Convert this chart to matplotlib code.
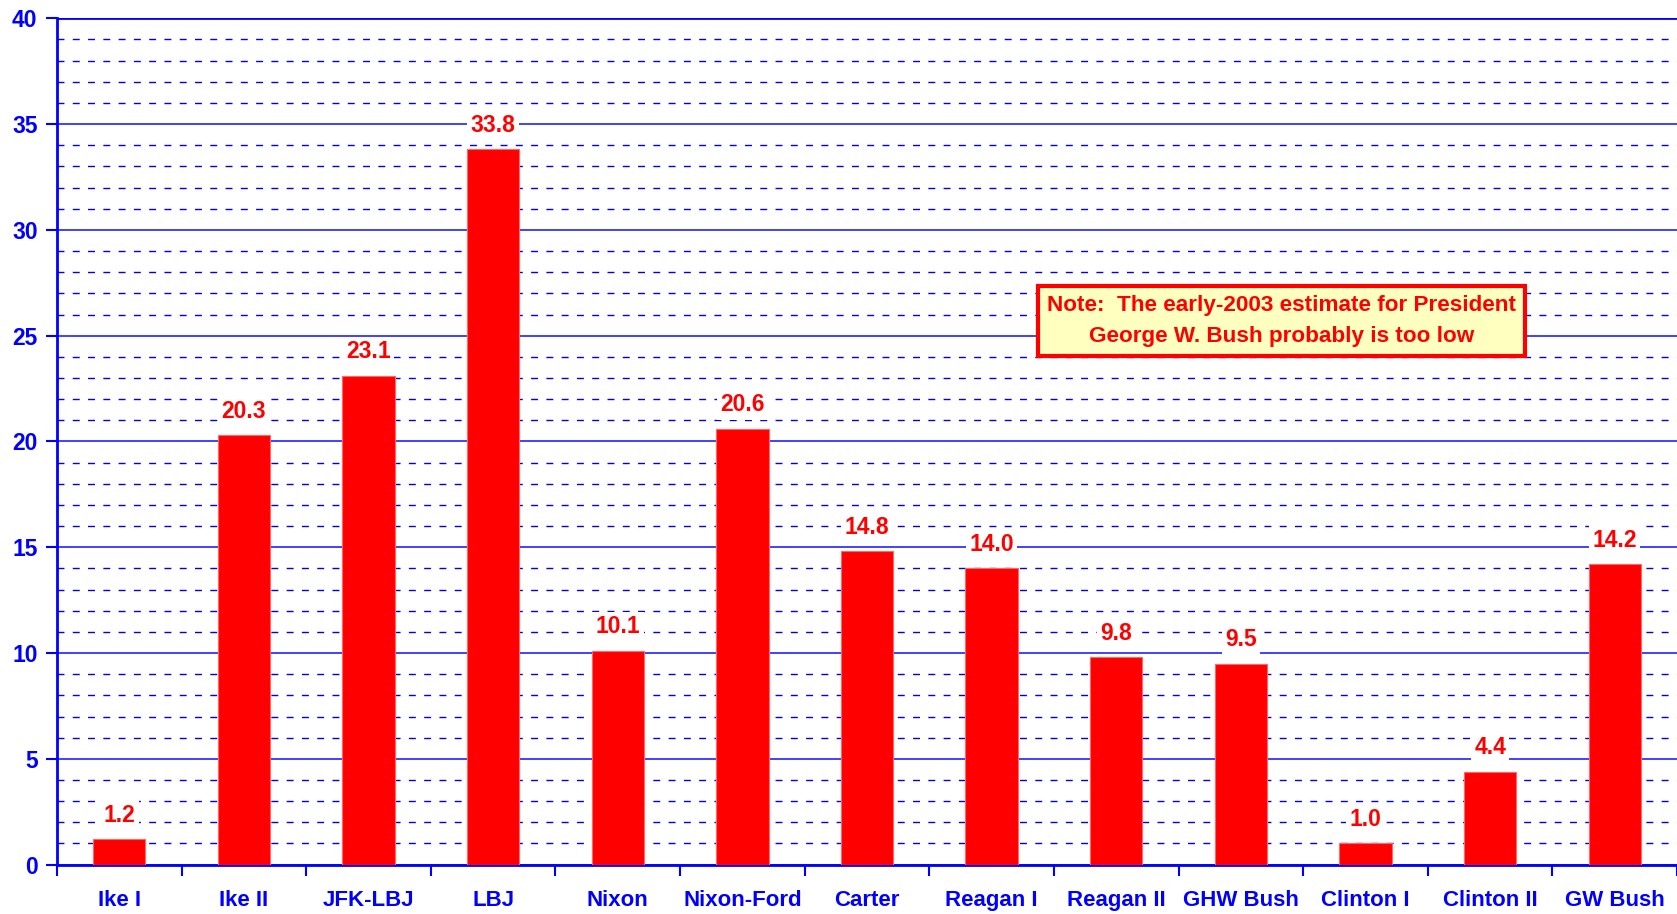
import matplotlib.pyplot as plt
from matplotlib.ticker import MultipleLocator

plt.rcParams['font.family'] = ['Liberation Sans', 'DejaVu Sans']
plt.rcParams['font.weight'] = 'bold'

names = ['Ike I', 'Ike II', 'JFK-LBJ', 'LBJ', 'Nixon', 'Nixon-Ford', 'Carter',
         'Reagan I', 'Reagan II', 'GHW Bush', 'Clinton I', 'Clinton II', 'GW Bush']
values = [1.2, 20.3, 23.1, 33.8, 10.1, 20.6, 14.8, 14.0, 9.8, 9.5, 1.0, 4.4, 14.2]
note = 'Note:  The early-2003 estimate for President\nGeorge W. Bush probably is too low'

fig = plt.figure(figsize=(16.77, 9.14), dpi=100)
ax = fig.add_axes([0.034, 0.054, 0.966, 0.926])

x = list(range(len(names)))
ax.bar(x, values, width=0.42, color='#FF0000', edgecolor='#FF6666', linewidth=0.8, zorder=3)

for xi, v in zip(x, values):
    ax.annotate('%.1f' % v, (xi, v), xytext=(0, 9), textcoords='offset points',
                ha='center', va='bottom', color='#FF0000', fontsize=16.5, fontweight='bold',
                bbox=dict(boxstyle='square,pad=0.15', fc='white', ec='none'), zorder=4)

ax.set_xlim(-0.5, len(names) - 0.5)
ax.set_ylim(0, 40)
ax.yaxis.set_major_locator(MultipleLocator(5))
ax.yaxis.set_minor_locator(MultipleLocator(1))
ax.set_xticks([i + 0.5 for i in range(-1, len(names))], minor=True)
ax.set_xticks(x)
ax.set_xticklabels(names, color='#0000FF', fontsize=16, fontweight='bold')
ax.tick_params(axis='x', which='major', length=0, pad=18)
ax.tick_params(axis='x', which='minor', length=8, width=1.5, color='#0000FF', direction='out')
ax.tick_params(axis='y', which='major', length=8, width=1.5, color='#0000FF',
               labelcolor='#0000FF', labelsize=16.5, pad=6)
ax.tick_params(axis='y', which='minor', length=0)
for lab in ax.get_yticklabels():
    lab.set_fontweight('bold')

ax.grid(axis='y', which='major', color='#3333FF', linewidth=1.3, linestyle='-', zorder=1)
ax.grid(axis='y', which='minor', color='#0000EE', linewidth=1.0, linestyle=(0, (5, 6)), zorder=1)
ax.set_axisbelow(True)

for s in ['top', 'right']:
    ax.spines[s].set_visible(False)
for s in ['left', 'bottom']:
    ax.spines[s].set_color('#0000FF')
    ax.spines[s].set_linewidth(2)
ax.axhline(40, color='#0000FF', linewidth=2, zorder=2)

ax.text(9.33, 25.7, note, ha='center', va='center', color='#FF0000', fontsize=16.2,
        fontweight='bold', linespacing=1.6, zorder=5,
        bbox=dict(boxstyle='square,pad=0.4', fc='#FFFFC0', ec='#FF0000', lw=3))

fig.savefig('out.png', dpi=100)
